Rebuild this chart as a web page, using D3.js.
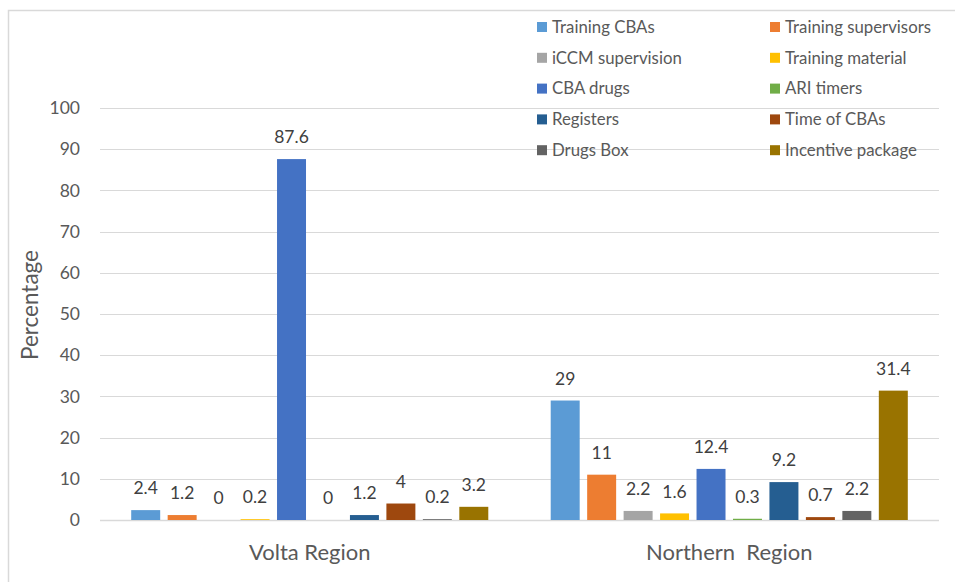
<!DOCTYPE html>
<html>
<head>
<meta charset="utf-8">
<script src="https://cdn.jsdelivr.net/npm/d3@7"></script>
<style>
  body { margin: 0; background: #fff; }
  text { font-family: Lato, "Open Sans", sans-serif; }
</style>
</head>
<body>
<div id="chart"></div>
<script>
// data
var regions = ["Volta Region", "Northern  Region"];
var seriesNames = ["Training CBAs", "Training supervisors", "iCCM supervision", "Training material",
    "CBA drugs", "ARI timers", "Registers", "Time of CBAs", "Drugs Box", "Incentive package"];
var voltaValues = [2.4, 1.2, 0, 0.2, 87.6, 0, 1.2, 4, 0.2, 3.2];
var northernValues = [29, 11, 2.2, 1.6, 12.4, 0.3, 9.2, 0.7, 2.2, 31.4];
var yTicks = [0, 10, 20, 30, 40, 50, 60, 70, 80, 90, 100];
var colors = ["#5B9BD5", "#ED7D31", "#A5A5A5", "#FFC000", "#4472C4",
    "#70AD47", "#255E91", "#9E480E", "#636363", "#997300"];

var valuesByRegion = [voltaValues, northernValues];

var width = 955, height = 582;
var plot = { left: 100, right: 939, top: 108, bottom: 520 };

var svg = d3.select("#chart")
    .append("svg")
    .attr("width", width)
    .attr("height", height);

svg.append("rect")
    .attr("width", width)
    .attr("height", height)
    .attr("fill", "#fff");

// chart border (right and bottom are cut off)
svg.append("rect")
    .attr("x", 8.5)
    .attr("y", 10.5)
    .attr("width", 1000)
    .attr("height", 1000)
    .attr("fill", "none")
    .attr("stroke", "#d9d9d9")
    .attr("stroke-width", 1.5);

// scales
var y = d3.scaleLinear().domain([0, 100]).range([plot.bottom, plot.top]);
var x0 = d3.scaleBand().domain(regions).range([plot.left, plot.right]).padding(0);
var x1 = d3.scaleBand().domain(seriesNames).range([0, x0.bandwidth()])
    .paddingInner(0.205).paddingOuter(0.856);

// grid lines
svg.append("g")
    .selectAll("line")
    .data(yTicks)
    .enter()
    .append("line")
    .attr("x1", plot.left)
    .attr("x2", plot.right)
    .attr("y1", function (d) { return Math.round(y(d)) + 0.5; })
    .attr("y2", function (d) { return Math.round(y(d)) + 0.5; })
    .attr("stroke", "#d9d9d9")
    .attr("stroke-width", function (d) { return d === 0 ? 1.5 : 1.2; });

// y axis labels
var yAxis = d3.axisLeft(y).tickValues(yTicks).tickSize(0).tickPadding(0);
svg.append("g")
    .attr("transform", "translate(80,0)")
    .call(yAxis)
    .call(function (g) { g.select(".domain").remove(); })
    .selectAll("text")
    .attr("fill", "#595959")
    .style("font-size", "17.5px")
    .style("font-family", "Lato, sans-serif");

// y axis title
svg.append("text")
    .attr("transform", "translate(38," + ((plot.top + plot.bottom) / 2 - 9) + ") rotate(-90)")
    .attr("text-anchor", "middle")
    .attr("fill", "#595959")
    .style("font-size", "22.5px")
    .text("Percentage");

// x axis labels
var xAxis = d3.axisBottom(x0).tickSize(0).tickPadding(0);
svg.append("g")
    .attr("transform", "translate(0,552)")
    .call(xAxis)
    .call(function (g) { g.select(".domain").remove(); })
    .selectAll("text")
    .attr("dy", "0.35em")
    .attr("fill", "#595959")
    .style("font-size", "22px")
    .style("font-family", "Lato, sans-serif")
    .style("white-space", "pre");

// bars
var groups = svg.append("g")
    .selectAll("g")
    .data(regions)
    .enter()
    .append("g")
    .attr("transform", function (d) { return "translate(" + x0(d) + ",0)"; });

groups.selectAll("rect")
    .data(function (d, i) {
        return seriesNames.map(function (s, j) { return { name: s, value: valuesByRegion[i][j], k: j }; });
    })
    .enter()
    .append("rect")
    .attr("x", function (d) { return x1(d.name); })
    .attr("y", function (d) { return y(d.value); })
    .attr("width", x1.bandwidth())
    .attr("height", function (d) { return y(0) - y(d.value); })
    .attr("fill", function (d) { return colors[d.k]; });

// value labels
groups.selectAll("text")
    .data(function (d, i) {
        return seriesNames.map(function (s, j) { return { name: s, value: valuesByRegion[i][j] }; });
    })
    .enter()
    .append("text")
    .attr("x", function (d) { return x1(d.name) + x1.bandwidth() / 2; })
    .attr("y", function (d) { return y(d.value) - 22; })
    .attr("dy", "0.35em")
    .attr("text-anchor", "middle")
    .attr("fill", "#404040")
    .style("font-size", "17.5px")
    .text(function (d) { return d.value; });

// legend
var legend = svg.append("g")
    .selectAll("g")
    .data(seriesNames)
    .enter()
    .append("g")
    .attr("transform", function (d, i) {
        var col = i % 2, row = Math.floor(i / 2);
        return "translate(" + (col === 0 ? 537 : 770) + "," + (27 + row * 30.8) + ")";
    });

legend.append("rect")
    .attr("x", 0)
    .attr("y", -5)
    .attr("width", 10)
    .attr("height", 10)
    .attr("fill", function (d, i) { return colors[i]; });

legend.append("text")
    .attr("x", 15)
    .attr("dy", "0.35em")
    .attr("fill", "#595959")
    .style("font-size", "16.8px")
    .text(function (d) { return d; });
</script>
</body>
</html>
